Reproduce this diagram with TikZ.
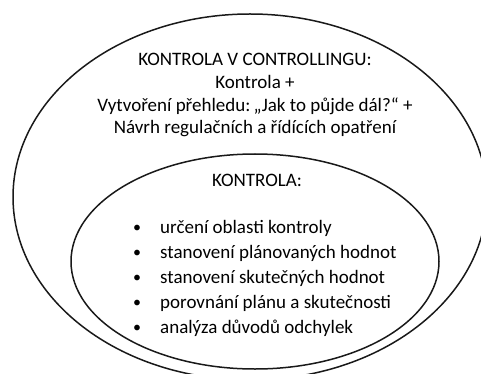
\documentclass[tikz,border=0pt]{standalone}
\usepackage{fontspec}
\setmainfont{Carlito}
\tikzset{
  ring/.style={draw=black!90, line width=1.5pt},
  txt/.style={font=\fontsize{19}{22.6}\selectfont, inner sep=0pt, anchor=base},
  item/.style={font=\fontsize{19}{22.6}\selectfont, inner sep=0pt, anchor=base west},
  dot/.style={font=\fontsize{16}{20}\selectfont, inner sep=0pt, anchor=base}
}
\begin{document}
\begin{tikzpicture}[x=1pt, y=-1pt]
\useasboundingbox (0,0) rectangle (481,374);
\clip (0,0) rectangle (481,374);
\draw[ring] (250,197) ellipse [x radius=237, y radius=183];
\draw[ring] (255,261.5) ellipse [x radius=184, y radius=107.5];
\node[txt] (t1) at (255,66) {KONTROLA V CONTROLLINGU:};
\node[txt] (t2) at (255,88.6) {Kontrola +};
\node[txt] (t3) at (255,111.2) {Vytvoření přehledu:\kern-2.5pt{} „Jak to půjde dál?“ +};
\node[txt] (t4) at (255,133.8) {Návrh regulačních a řídících opatření};
\node[txt] (k) at (257,186) {KONTROLA:};
\foreach \i/\t in {0/určení oblasti kontroly, 1/stanovení plánovaných hodnot, 2/stanovení skutečných hodnot, 3/porovnání plánu a skutečnosti, 4/analýza důvodů odchylek}{
  \node[dot] (b\i) at (137,232+25*\i) {•};
  \node[item] (i\i) at (160,233+25*\i) {\t};
}
\end{tikzpicture}
\end{document}
